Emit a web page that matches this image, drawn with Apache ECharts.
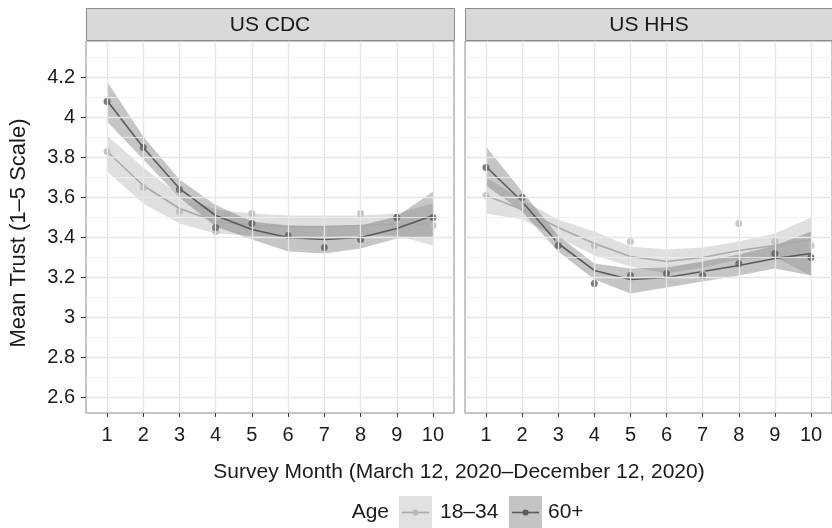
<!DOCTYPE html>
<html><head><meta charset="utf-8">
<script src="https://cdn.jsdelivr.net/npm/echarts@6/dist/echarts.min.js"></script>
<style>html,body{margin:0;padding:0;background:#fff}#c{width:832px;height:528px}</style>
</head><body><div id="c"></div>
<script>
// ---- data ----
const months = [1, 2, 3, 4, 5, 6, 7, 8, 9, 10];
const panels = ['US CDC', 'US HHS'];
const ageGroups = ['18–34', '60+'];
const yTicks = [2.6, 2.8, 3, 3.2, 3.4, 3.6, 3.8, 4, 4.2];
const yMinor = [2.7, 2.9, 3.1, 3.3, 3.5, 3.7, 3.9, 4.1, 4.3];

// US CDC
const cdcPts18 = [3.83, 3.65, 3.53, 3.43, 3.52, 3.42, 3.42, 3.52, 3.50, 3.46];
const cdcPts60 = [4.08, 3.85, 3.64, 3.45, 3.47, 3.41, 3.35, 3.39, 3.50, 3.50];
const cdcFit18 = [3.83, 3.66, 3.545, 3.48, 3.46, 3.455, 3.455, 3.46, 3.465, 3.47];
const cdcFit60 = [4.085, 3.85, 3.645, 3.51, 3.44, 3.40, 3.39, 3.40, 3.445, 3.51];
const cdcLo18 = [3.73, 3.57, 3.47, 3.42, 3.41, 3.40, 3.40, 3.41, 3.41, 3.36];
const cdcHi18 = [3.91, 3.75, 3.61, 3.54, 3.52, 3.51, 3.51, 3.51, 3.52, 3.57];
const cdcLo60 = [3.98, 3.79, 3.60, 3.455, 3.39, 3.33, 3.32, 3.345, 3.395, 3.40];
const cdcHi60 = [4.18, 3.905, 3.69, 3.563, 3.48, 3.46, 3.455, 3.46, 3.505, 3.63];

// US HHS
const hhsPts18 = [3.61, 3.58, 3.38, 3.36, 3.38, 3.23, 3.22, 3.47, 3.38, 3.36];
const hhsPts60 = [3.75, 3.60, 3.36, 3.17, 3.21, 3.22, 3.21, 3.27, 3.32, 3.30];
const hhsFit18 = [3.61, 3.54, 3.45, 3.37, 3.305, 3.28, 3.30, 3.335, 3.36, 3.39];
const hhsFit60 = [3.755, 3.58, 3.37, 3.235, 3.19, 3.20, 3.23, 3.26, 3.295, 3.32];
const hhsLo18 = [3.52, 3.49, 3.40, 3.31, 3.255, 3.22, 3.25, 3.29, 3.30, 3.21];
const hhsHi18 = [3.70, 3.59, 3.49, 3.43, 3.355, 3.34, 3.35, 3.38, 3.42, 3.50];
const hhsLo60 = [3.66, 3.53, 3.33, 3.19, 3.12, 3.15, 3.18, 3.21, 3.245, 3.21];
const hhsHi60 = [3.855, 3.63, 3.41, 3.27, 3.245, 3.25, 3.28, 3.315, 3.36, 3.43];

// ---- styling ----
const FONT = '"Liberation Sans", Arial, sans-serif';
const TXT = '#1a1a1a';
const light = {pt: '#b8b8b8', line: '#a9a9a9', band: 'rgba(150,150,150,0.30)', key: '#e1e1e1'};
const dark = {pt: '#5a5a5a', line: '#5a5a5a', band: 'rgba(95,95,95,0.36)', key: '#c4c4c4'};

const panelData = [
  {pts: [cdcPts18, cdcPts60], fit: [cdcFit18, cdcFit60], lo: [cdcLo18, cdcLo60], hi: [cdcHi18, cdcHi60]},
  {pts: [hhsPts18, hhsPts60], fit: [hhsFit18, hhsFit60], lo: [hhsLo18, hhsLo60], hi: [hhsHi18, hhsHi60]}
];

const gridBox = [{left: 86, top: 41, width: 368, height: 372}, {left: 465, top: 41, width: 368, height: 372}];
const pair = arr => arr.map((v, i) => [months[i], v]);

const grids = [], xAxes = [], yAxes = [], series = [], graphics = [];
panels.forEach((name, p) => {
  const g = gridBox[p];
  grids.push({left: g.left, top: g.top, width: g.width, height: g.height, show: true,
    borderColor: '#8c8c8c', borderWidth: 1, backgroundColor: '#fff', containLabel: false});
  xAxes.push({type: 'value', gridIndex: p, min: 0.42, max: 10.58,
    axisLine: {show: false}, splitLine: {show: false},
    axisTick: {show: true, customValues: months, length: 4, lineStyle: {color: '#333'}},
    axisLabel: {show: true, customValues: months, margin: 12, color: TXT, fontSize: 20, fontFamily: FONT}});
  yAxes.push({type: 'value', gridIndex: p, min: 2.522, max: 4.383,
    axisLine: {show: false}, splitLine: {show: false},
    axisTick: {show: p === 0, customValues: yTicks, length: 5, lineStyle: {color: '#333'}},
    axisLabel: {show: p === 0, customValues: yTicks, margin: 11, color: TXT, fontSize: 20, fontFamily: FONT}});
  // grid lines
  const mk = [];
  yMinor.forEach(v => mk.push({yAxis: v, lineStyle: {color: '#efefef', width: 0.8, type: 'solid'}}));
  yTicks.forEach(v => mk.push({yAxis: v, lineStyle: {color: '#e6e6e6', width: 1.3, type: 'solid'}}));
  months.forEach(v => mk.push({xAxis: v, lineStyle: {color: '#e6e6e6', width: 1.3, type: 'solid'}}));
  series.push({type: 'scatter', xAxisIndex: p, yAxisIndex: p, data: [], z: 0, silent: true,
    markLine: {silent: true, symbol: 'none', label: {show: false}, animation: false, data: mk}});
  const d = panelData[p];
  // confidence bands (one polygon each, built through the axes' scales)
  [light, dark].forEach((c, k) => {
    const lo = d.lo[k], hi = d.hi[k];
    series.push({type: 'custom', xAxisIndex: p, yAxisIndex: p, z: 1, silent: true, clip: true,
      data: months.map((m, i) => [m, lo[i], hi[i]]), encode: {x: 0, y: [1, 2]},
      renderItem: (params, api) => {
        if (params.dataIndex !== 0) return null;
        const pts = [];
        for (let i = 0; i < months.length; i++) pts.push(api.coord([months[i], hi[i]]));
        for (let i = months.length - 1; i >= 0; i--) pts.push(api.coord([months[i], lo[i]]));
        return {type: 'polygon', shape: {points: pts}, style: {fill: c.band}};
      }});
  });
  [light, dark].forEach((c, k) => {
    series.push({type: 'line', name: ageGroups[k], xAxisIndex: p, yAxisIndex: p, data: pair(d.fit[k]),
      symbol: 'none', lineStyle: {color: c.line, width: 1.6}, z: 3, silent: true});
  });
  [light, dark].forEach((c, k) => {
    series.push({type: 'scatter', xAxisIndex: p, yAxisIndex: p, data: pair(d.pts[k]),
      symbolSize: 7, itemStyle: {color: c.pt}, z: 4, silent: true});
  });
  // facet strip
  graphics.push({type: 'rect', left: g.left, top: 8, shape: {width: g.width, height: 32},
    style: {fill: '#d9d9d9', stroke: '#8c8c8c', lineWidth: 1}});
  graphics.push({type: 'text', x: g.left + 184, y: 25, style: {text: name, fill: TXT,
    font: '21px ' + FONT, textAlign: 'center', textVerticalAlign: 'middle'}});
});

// axis titles
graphics.push({type: 'text', x: 459, y: 472, style: {text: 'Survey Month (March 12, 2020–December 12, 2020)',
  fill: TXT, font: '21px ' + FONT, textAlign: 'center', textVerticalAlign: 'middle'}});
graphics.push({type: 'text', x: 19, y: 233, rotation: Math.PI / 2, style: {text: 'Mean Trust (1–5 Scale)',
  fill: TXT, font: '22px ' + FONT, textAlign: 'center', textVerticalAlign: 'middle'}});

// legend
graphics.push({type: 'text', x: 389, y: 512, style: {text: 'Age', fill: TXT, font: '21px ' + FONT,
  textAlign: 'right', textVerticalAlign: 'middle'}});
const keyX = [399, 509], labX = [440, 548];
[light, dark].forEach((c, k) => {
  graphics.push({type: 'rect', left: keyX[k], top: 496, shape: {width: 33, height: 33}, style: {fill: c.key}});
  graphics.push({type: 'line', shape: {x1: keyX[k] + 3, y1: 512.5, x2: keyX[k] + 30, y2: 512.5},
    style: {stroke: c.line, lineWidth: 1.6}});
  graphics.push({type: 'circle', shape: {cx: keyX[k] + 16.5, cy: 512.5, r: 3}, style: {fill: c.pt}});
  graphics.push({type: 'text', x: labX[k], y: 512, style: {text: ageGroups[k], fill: TXT, font: '21px ' + FONT,
    textAlign: 'left', textVerticalAlign: 'middle'}});
});

const chart = echarts.init(document.getElementById('c'), null, {renderer: 'canvas'});
chart.setOption({animation: false, grid: grids, xAxis: xAxes, yAxis: yAxes, series: series, graphic: graphics});
</script></body></html>
